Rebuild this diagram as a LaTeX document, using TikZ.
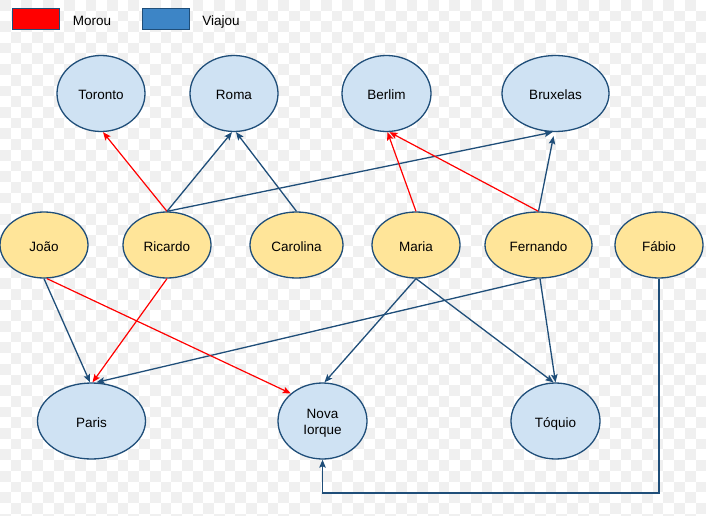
\documentclass[tikz,border=0pt]{standalone}
\usepackage{fontspec}
\setmainfont{Liberation Sans}
\usetikzlibrary{arrows.meta,shapes.geometric}
\definecolor{edgeblue}{HTML}{1F4E79}
\definecolor{cityfill}{HTML}{CFE2F3}
\definecolor{personfill}{HTML}{FFE599}
\definecolor{legblue}{HTML}{3D85C6}
\definecolor{checker}{HTML}{F0F0F0}
\tikzset{
  txt/.style={font=\fontsize{13.5}{16}\selectfont, text height=13pt, text depth=0pt},
  city/.style={ellipse, draw=edgeblue, fill=cityfill, line width=1.3pt, inner sep=0pt,
    minimum width=88pt, minimum height=76pt, txt, align=center},
  person/.style={ellipse, draw=edgeblue, fill=personfill, line width=1.3pt, inner sep=0pt,
    minimum width=88pt, minimum height=66pt, txt},
  travel/.style={draw=edgeblue, line width=1.3pt, -{Stealth[length=8pt,width=6.5pt,inset=1.5pt]}},
  lived/.style={draw=red, line width=1.2pt, -{Stealth[length=8pt,width=6.5pt,inset=1.5pt]}},
  legbox/.style={draw=edgeblue, line width=1pt, minimum width=47pt, minimum height=21pt, inner sep=0pt},
  legtext/.style={txt}
}
\begin{document}
\begin{tikzpicture}[x=1pt,y=-1pt]
\useasboundingbox (0,0) rectangle (706,516);
\fill[white] (0,0) rectangle (706,516);
\begin{scope}
\clip (0,0) rectangle (706,516);
\foreach \j in {0,...,48} {
  \pgfmathtruncatemacro\off{mod(\j,2)}
  \foreach \i in {0,2,...,66} {
    \fill[checker] ({(\i+\off)*10.7},{\j*10.7}) rectangle +(10.7pt,-10.7pt);
  }
}
\end{scope}

% legend
\node[legbox, fill=red] (lm) at (36,19.5) {};
\node[legtext] (lmt) at (92,19.5) {Morou};
\node[legbox, fill=legblue] (lv) at (166,19.5) {};
\node[legtext] (lvt) at (221,19.5) {Viajou};

% cities top
\node[city] (toronto) at (101,93.5) {Toronto};
\node[city] (roma) at (234,93.5) {Roma};
\node[city, minimum width=89pt] (berlim) at (386.5,93.5) {Berlim};
\node[city, minimum width=107pt] (bruxelas) at (555.5,93.5) {Bruxelas};

% people
\node[person] (joao) at (44,245) {João};
\node[person] (ricardo) at (167,245) {Ricardo};
\node[person, minimum width=93pt] (carolina) at (296.5,245) {Carolina};
\node[person] (maria) at (416,245) {Maria};
\node[person, minimum width=107pt] (fernando) at (538.5,245) {Fernando};
\node[person] (fabio) at (659,245) {Fábio};

% cities bottom
\node[city, minimum width=108pt] (paris) at (91.5,421) {Paris};
\node[city, minimum width=89pt, text height={}, text depth={}] (ny) at (322.5,421) {\rule{0pt}{14pt}Nova\\Iorque};
\node[city, minimum width=89pt] (toquio) at (555.5,421) {Tóquio};

% edges to top cities
\draw[lived] (ricardo.north) -- ([xshift=2pt]toronto.south);
\draw[travel] (ricardo.north) -- ([xshift=-2pt]roma.south);
\draw[travel] (carolina.north) -- ([xshift=2pt]roma.south);
\draw[travel] (ricardo.north) -- ([xshift=-3pt]bruxelas.south);
\draw[lived] (maria.north) -- ([xshift=1pt]berlim.south);
\draw[lived] (fernando.north) -- ([xshift=3pt]berlim.south);
\draw[travel] (fernando.north) -- ([xshift=-2pt,yshift=-4pt]bruxelas.south);

% edges to bottom cities
\draw[travel] (joao.south) -- ([xshift=-1.5pt]paris.north);
\draw[lived] (ricardo.south) -- ([xshift=1pt]paris.north);
\draw[travel] ([xshift=-1.5pt]fernando.south) -- ([xshift=5pt]paris.north);
\draw[lived] ([xshift=3pt]joao.south) -- (ny.139);
\draw[travel] (maria.south) -- ([xshift=2pt]ny.north);
\draw[travel] (maria.south) -- ([xshift=-2pt]toquio.north);
\draw[travel] ([xshift=1.5pt]fernando.south) -- ([xshift=0pt]toquio.north);
\coordinate (c1) at (659,493);
\coordinate (c2) at (322.5,493);
\draw[travel] (fabio.south) -- (c1) -- (c2) -- (ny.south);
\end{tikzpicture}
\end{document}
